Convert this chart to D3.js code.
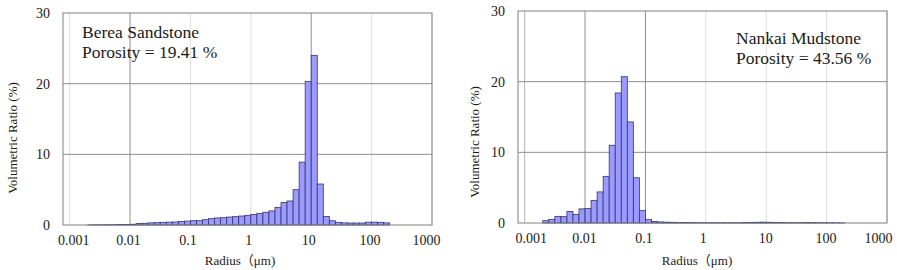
<!DOCTYPE html>
<html>
<head>
<meta charset="utf-8">
<script src="https://cdn.jsdelivr.net/npm/d3@7"></script>
<style>
    body { margin: 0; background: #fff; }
    text { font-family: "Liberation Serif", "Times New Roman", "Noto Sans CJK JP", serif; fill: #1a1a1a; }
</style>
</head>
<body>
<div id="chart"></div>
<script>
// 横轴刻度（对数）
const xTickValues = [0.001, 0.01, 0.1, 1, 10, 100, 1000];
const xTickLabels = ["0.001", "0.01", "0.1", "1", "10", "100", "1000"];
const yTickValues = [0, 10, 20, 30];

// 每个柱子的宽度（log10 单位）
const binStep = 0.1;

// Berea Sandstone: 第一个柱子的起点 log10(r) = -2.7
const bereaFirstBin = -2.7;
const bereaValues = [
    0.02, 0.03, 0.03, 0.04, 0.05, 0.06, 0.08,
    0.10, 0.20, 0.25, 0.30, 0.33, 0.38, 0.40, 0.43, 0.50, 0.55,
    0.61, 0.61, 0.75, 0.90, 1.00, 1.04, 1.13, 1.18, 1.27, 1.37,
    1.50, 1.65, 1.80, 2.00, 2.50, 3.20, 3.40, 5.00, 8.90, 20.3,
    24.0, 5.80, 1.20, 0.60, 0.38, 0.30, 0.28, 0.28, 0.28, 0.40,
    0.40, 0.38, 0.30
];

// Nankai Mudstone
const nankaiFirstBin = -2.7;
const nankaiValues = [
    0.33, 0.52, 0.94, 0.90, 1.64, 1.22, 2.00,
    2.06, 3.20, 4.40, 6.60, 11.0, 18.4, 20.7, 14.3, 6.40, 1.75,
    0.52, 0.23, 0.15, 0.12, 0.10, 0.08, 0.07, 0.06, 0.05, 0.05,
    0.05, 0.04, 0.04, 0.04, 0.04, 0.05, 0.06, 0.08, 0.10, 0.12,
    0.10, 0.08, 0.06, 0.05, 0.05, 0.05, 0.06, 0.06, 0.05, 0.05,
    0.04, 0.03, 0.02
];

const svg = d3.select("#chart").append("svg")
    .attr("width", 897)
    .attr("height", 270);

svg.append("rect").attr("width", 897).attr("height", 270).attr("fill", "#fff");

/**
 * 绘制一个直方图面板
 */
function drawPanel(opt) {
    const x = d3.scaleLog()
        .domain([Math.pow(10, -3.11), 1000])
        .range([opt.left, opt.right]);
    const y = d3.scaleLinear()
        .domain([0, 30])
        .range([opt.bottom, opt.top]);

    const g = svg.append("g");

    // 竖直网格线
    xTickValues.forEach(v => {
        g.append("line")
            .attr("x1", x(v)).attr("x2", x(v))
            .attr("y1", opt.top).attr("y2", opt.bottom)
            .attr("stroke", opt.gridColor(v))
            .attr("stroke-width", 1);
    });

    // 水平网格线
    [10, 20].forEach(v => {
        g.append("line")
            .attr("x1", opt.left).attr("x2", opt.right)
            .attr("y1", y(v)).attr("y2", y(v))
            .attr("stroke", "#8f8f8f")
            .attr("stroke-width", 1);
    });

    // 柱子
    const bins = opt.values.map((v, i) => {
        const lo = opt.firstBin + i * binStep;
        return { x0: Math.pow(10, lo), x1: Math.pow(10, lo + binStep), value: v };
    });

    g.selectAll("rect.bar")
        .data(bins)
        .enter()
        .append("rect")
        .attr("class", "bar")
        .attr("x", d => x(d.x0))
        .attr("width", d => x(d.x1) - x(d.x0))
        .attr("y", d => y(d.value))
        .attr("height", d => y(0) - y(d.value))
        .attr("fill", "#9a9aff")
        .attr("stroke", "#34346e")
        .attr("stroke-width", 0.8);

    // 边框
    g.append("rect")
        .attr("x", opt.left).attr("y", opt.top)
        .attr("width", opt.right - opt.left)
        .attr("height", opt.bottom - opt.top)
        .attr("fill", "none")
        .attr("stroke", "#808080")
        .attr("stroke-width", 1);

    // 坐标轴标签
    const xAxis = d3.axisBottom(x)
        .tickValues(xTickValues)
        .tickFormat((d, i) => xTickLabels[i])
        .tickSize(0)
        .tickPadding(10);
    g.append("g")
        .attr("transform", `translate(0,${opt.bottom})`)
        .call(xAxis)
        .call(a => a.select(".domain").remove())
        .selectAll("text")
        .attr("dx", (d, i) => opt.labelShift[i])
        .style("font-size", "14px")
        .style("font-family", "'Liberation Serif', serif")
        .attr("fill", "#1a1a1a");

    const yAxis = d3.axisLeft(y)
        .tickValues(yTickValues)
        .tickSize(0)
        .tickPadding(13);
    g.append("g")
        .attr("transform", `translate(${opt.left},0)`)
        .call(yAxis)
        .call(a => a.select(".domain").remove())
        .selectAll("text")
        .style("font-size", "14px")
        .style("font-family", "'Liberation Serif', serif")
        .attr("fill", "#1a1a1a");

    // 轴标题
    g.append("text")
        .attr("x", opt.xTitleX)
        .attr("y", 265)
        .attr("text-anchor", "middle")
        .style("font-size", "13px")
        .text("Radius（μm)");

    g.append("text")
        .attr("transform", `translate(${opt.yTitleX},${opt.yTitleY}) rotate(-90)`)
        .attr("text-anchor", "middle")
        .style("font-size", "13px")
        .text("Volumetric Ratio (%)");

    // 注释
    opt.notes.forEach((t, i) => {
        g.append("text")
            .attr("x", opt.noteX)
            .attr("y", opt.noteY + i * 20)
            .style("font-size", "17.5px")
            .text(t);
    });
}

drawPanel({
    left: 63, right: 432, top: 13, bottom: 225,
    firstBin: bereaFirstBin, values: bereaValues,
    gridColor: v => (v === 0.01 || v === 10) ? "#8f8f8f" : "#dedede",
    labelShift: [3.5, -2, -3, -2.5, -3, -2, -6],
    xTitleX: 240, yTitleX: 17, yTitleY: 138,
    noteX: 82, noteY: 38,
    notes: ["Berea Sandstone", "Porosity = 19.41 %"]
});

drawPanel({
    left: 518, right: 887, top: 11, bottom: 223,
    firstBin: nankaiFirstBin, values: nankaiValues,
    gridColor: v => (v === 0.01 || v === 0.1) ? "#8f8f8f" : (v === 0.001 ? "#b5b5b5" : "#dedede"),
    labelShift: [6, -1, -2, -3, -1, -1, -9],
    xTitleX: 697, yTitleX: 479, yTitleY: 142,
    noteX: 736, noteY: 44,
    notes: ["Nankai Mudstone", "Porosity = 43.56 %"]
});
</script>
</body>
</html>
